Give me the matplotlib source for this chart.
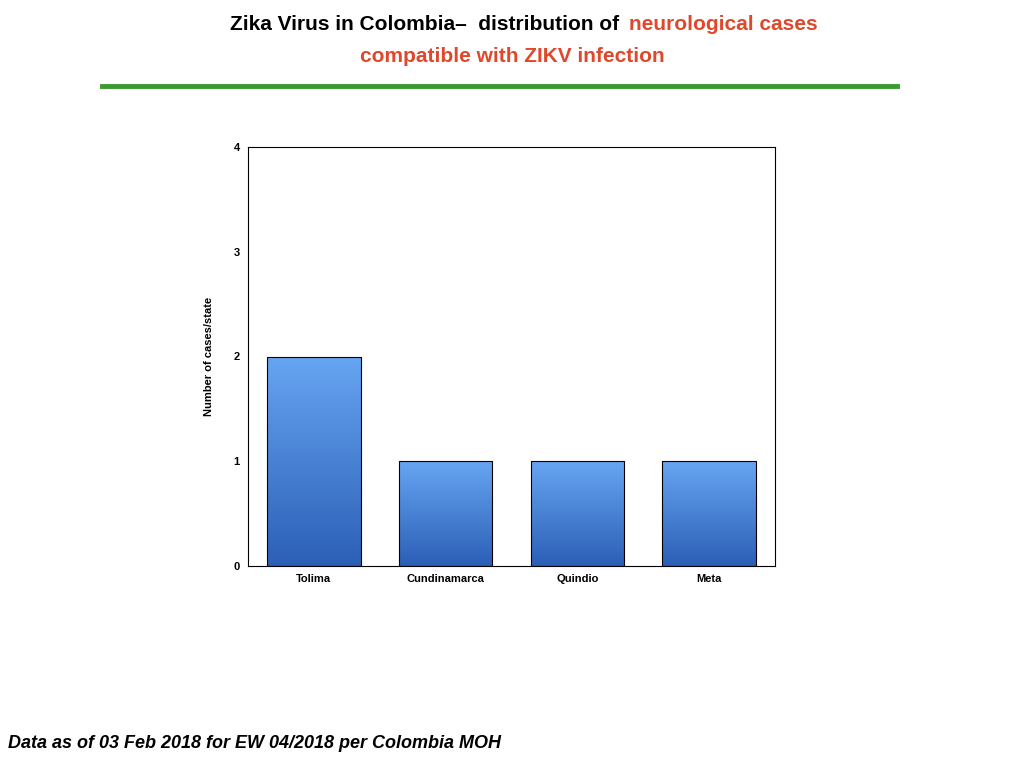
import matplotlib
matplotlib.use("Agg")
import matplotlib.pyplot as plt
import numpy as np
from matplotlib.colors import LinearSegmentedColormap

plt.rcParams['font.family'] = ['Liberation Sans', 'DejaVu Sans']

states = ["Tolima", "Cundinamarca", "Quindio", "Meta"]
cases = [2, 1, 1, 1]
yticks = [0, 1, 2, 3, 4]

fig = plt.figure(figsize=(10.24, 7.68), dpi=100)
ax = fig.add_axes([248/1024, 1-566/768, (775-248)/1024, (566-147)/768])

x = np.arange(len(states))
bars = ax.bar(x, cases, width=0.71, color='none', edgecolor='black', linewidth=0.8, zorder=3)

# vertical blue gradient inside each bar
cmap = LinearSegmentedColormap.from_list("blu", ["#2b5fb6", "#67a5f2"])
grad = np.linspace(0, 1, 256).reshape(-1, 1)
for b in bars:
    x0, y0 = b.get_x(), b.get_y()
    w, h = b.get_width(), b.get_height()
    im = ax.imshow(grad, cmap=cmap, origin='lower', aspect='auto',
                   extent=[x0, x0 + w, y0, y0 + h], zorder=2)
    im.set_clip_path(b)

ax.set_xlim(-0.5, len(states) - 0.5)
ax.set_ylim(0, 4)
ax.set_yticks(yticks)
ax.set_xticks(x)
ax.set_xticklabels(states, fontsize=8, fontweight='bold')
ax.set_yticklabels([str(t) for t in yticks], fontsize=8, fontweight='bold')
ax.tick_params(length=0, pad=6)
ax.set_ylabel("Number of cases/state", fontsize=8, fontweight='bold', labelpad=14)

red = "#e0482c"
fig.text(625/1024, 1-24/768, "Zika Virus in Colombia\u2013  distribution of ", ha='right', va='center',
         fontsize=15, fontweight='bold', color='black')
fig.text(629/1024, 1-24/768, "neurological cases", ha='left', va='center',
         fontsize=15, fontweight='bold', color=red)
fig.text(512/1024, 1-57/768, "compatible with ZIKV infection", ha='center', va='center',
         fontsize=15, fontweight='bold', color=red)
fig.add_artist(plt.Line2D([102/1024, 897/1024], [1-86/768, 1-86/768], color="#3a9a2e", linewidth=3.5))

fig.text(8/1024, 1-743/768, "Data as of 03 Feb 2018 for EW 04/2018 per Colombia MOH", ha='left', va='center',
         fontsize=13, fontweight='bold', fontstyle='italic')

fig.savefig("out.png", dpi=100)
